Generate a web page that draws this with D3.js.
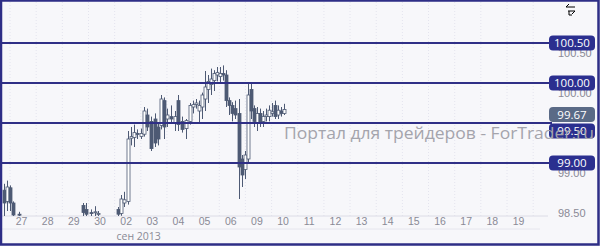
<!DOCTYPE html>
<html lang="ru">
<head>
<meta charset="utf-8">
<title>USDJPY</title>
<script src="https://d3js.org/d3.v7.min.js"></script>
<style>
  body { margin: 0; background: #fff; }
  svg { display: block; font-family: "Open Sans", "DejaVu Sans", sans-serif; }
</style>
</head>
<body>
<svg id="chart"></svg>
<script>
// day labels (index 0..19)
var dayLabels = ["27","28","29","30","02","03","04","05","06","09","10","11","12","13","14","15","16","17","18","19"];
var monthLabel = "сен 2013";

// candles: position in day units, open, high, low, close
var candleT = [-0.65,-0.54,-0.42,-0.31,-0.08, 2.37,2.48,2.68,2.83,2.94,
  3.71,3.82,3.94,4.09,4.20,4.32,4.43,4.59,4.70,4.82,4.97,5.12,5.24,5.35,5.47,5.58,5.73,5.89,
  6.00,6.15,6.31,6.46,6.57,6.69,6.80,6.92,7.03,7.15,7.26,7.38,7.49,7.61,7.72,7.84,7.95,
  8.07,8.18,8.33,8.45,8.56,8.68,8.79,8.91,9.02,9.14,9.25,9.37,9.48,9.59,9.71,9.82,9.94,10.05];
var open  = [98.66,98.52,98.69,98.50,98.36, 98.47,98.42,98.38,98.38,98.36,
  98.42,98.37,98.50,98.52,99.31,99.32,99.37,99.33,99.36,99.60,99.52,99.55,99.45,99.47,99.78,99.55,99.58,99.50,
  99.78,99.52,99.43,99.52,99.70,99.73,99.65,99.70,99.80,99.92,99.98,100.03,100.10,100.08,100.12,100.10,99.78,
  99.72,99.68,99.62,99.05,98.92,99.05,99.92,99.68,99.50,99.62,99.52,99.58,99.58,99.62,99.72,99.60,99.65,99.62];
var high  = [98.74,98.78,98.72,98.52,98.39, 98.50,98.50,98.42,98.46,98.40,
  98.45,98.60,98.64,99.40,99.45,99.48,99.42,99.43,99.70,99.68,99.58,99.62,99.50,99.85,99.82,99.68,99.72,99.65,
  99.85,99.58,99.55,99.75,99.78,99.80,99.78,99.88,100.15,100.10,100.18,100.16,100.20,100.20,100.22,100.16,99.82,
  99.76,99.78,99.80,99.10,99.15,100.00,100.00,99.72,99.70,99.68,99.65,99.68,99.72,99.75,99.78,99.72,99.70,99.74];
var low   = [98.30,98.40,98.40,98.30,98.30, 98.30,98.30,98.30,98.30,98.30,
  98.30,98.34,98.45,98.48,99.22,99.20,99.30,99.30,99.33,99.40,99.15,99.20,99.22,99.42,99.30,99.45,99.50,99.40,
  99.40,99.38,99.30,99.48,99.62,99.68,99.50,99.55,99.65,99.75,99.85,99.90,100.02,100.00,100.03,99.70,99.60,
  99.52,99.55,98.55,98.70,98.80,99.00,99.55,99.45,99.40,99.45,99.45,99.52,99.52,99.58,99.55,99.55,99.58,99.60];
var close = [98.50,98.70,98.50,98.35,98.35, 98.38,98.36,98.37,98.39,98.37,
  98.36,98.55,98.54,99.30,99.33,99.38,99.36,99.37,99.65,99.45,99.18,99.25,99.30,99.80,99.45,99.60,99.55,99.58,
  99.48,99.42,99.53,99.72,99.73,99.75,99.72,99.85,99.95,100.02,100.05,100.12,100.13,100.12,100.10,99.78,99.72,
  99.62,99.60,98.95,98.85,99.10,99.85,99.65,99.52,99.62,99.50,99.58,99.60,99.66,99.64,99.58,99.66,99.62,99.67];

// horizontal levels with labels, y-axis ticks, last price
var levels = [100.50, 100.00, 99.50, 99.00];
var yTicks = [98.50, 99.00, 99.50, 100.00, 100.50];
var lastPrice = 99.67;
var watermark = "Портал для трейдеров - ForTrader.ru";

var width = 600, height = 246;
var plot = {left: 2, right: 548, top: 2, bottom: 216};

var svg = d3.select("#chart").attr("width", width).attr("height", height);

var x = d3.scaleLinear().domain([0, 19]).range([21, 518]);
var y = d3.scaleLinear().domain([98.5, 100.5]).range([203, 43]);

svg.append("rect").attr("width", width).attr("height", height).attr("fill", "#f7f7fa");

svg.append("clipPath").attr("id", "plotClip")
  .append("rect")
  .attr("x", plot.left).attr("y", plot.top)
  .attr("width", plot.right - plot.left).attr("height", plot.bottom - plot.top);

// faint day grid
svg.append("g")
  .selectAll("line")
  .data(d3.range(-1, 21))
  .enter()
  .append("line")
  .attr("x1", d => x(d - 0.42)).attr("x2", d => x(d - 0.42))
  .attr("y1", plot.top).attr("y2", plot.bottom)
  .attr("stroke", "#e4e4ee").attr("stroke-dasharray", "1,2");

// axis separator
svg.append("line")
  .attr("x1", plot.left).attr("x2", plot.right)
  .attr("y1", plot.bottom).attr("y2", plot.bottom)
  .attr("stroke", "#dcdce6");
svg.append("line")
  .attr("x1", plot.left).attr("x2", 540)
  .attr("y1", 229).attr("y2", 229)
  .attr("stroke", "#e6e6ee");

// x axis
var xAxis = d3.axisBottom(x)
  .tickValues(d3.range(dayLabels.length))
  .tickFormat(i => dayLabels[i])
  .tickSize(0).tickPadding(0);
var gx = svg.append("g").attr("transform", "translate(0," + 218 + ")").call(xAxis);
gx.select(".domain").remove();
gx.selectAll("text").attr("fill", "#8a8a96").attr("font-size", 10.5).attr("dy", "0.71em");

svg.append("text")
  .attr("x", x(4.5)).attr("y", 240)
  .attr("text-anchor", "middle")
  .attr("fill", "#8a8a96").attr("font-size", 10.5)
  .text(monthLabel);

// y axis tick labels (under the level boxes)
var yAxis = d3.axisRight(y)
  .tickValues(yTicks)
  .tickFormat(d3.format(".2f"))
  .tickSize(0).tickPadding(0);
var gy = svg.append("g").attr("transform", "translate(558,10)").call(yAxis);
gy.select(".domain").remove();
gy.selectAll("text").attr("fill", "#8a8a96").attr("font-size", 11);

// candles
var candles = candleT.map((t, i) => ({t: t, o: open[i], h: high[i], l: low[i], c: close[i]}));
var cg = svg.append("g").attr("clip-path", "url(#plotClip)");
var candleColor = "#4e5a74";

cg.selectAll("line.wick")
  .data(candles)
  .enter()
  .append("line")
  .attr("class", "wick")
  .attr("x1", d => Math.round(x(d.t)) + 0.5).attr("x2", d => Math.round(x(d.t)) + 0.5)
  .attr("y1", d => y(d.h)).attr("y2", d => y(d.l))
  .attr("stroke", candleColor).attr("stroke-width", 1);

cg.selectAll("rect.body")
  .data(candles)
  .enter()
  .append("rect")
  .attr("class", "body")
  .attr("x", d => Math.round(x(d.t)) - 1)
  .attr("y", d => y(Math.max(d.o, d.c)))
  .attr("width", 3)
  .attr("height", d => Math.max(1, Math.abs(y(d.o) - y(d.c))))
  .attr("fill", d => d.c >= d.o ? "#ffffff" : candleColor)
  .attr("stroke", candleColor).attr("stroke-width", 0.8);

// horizontal levels
svg.append("g")
  .selectAll("line")
  .data(levels)
  .enter()
  .append("line")
  .attr("x1", 0).attr("x2", 552)
  .attr("y1", d => y(d)).attr("y2", d => y(d))
  .attr("stroke", "#2f2f86").attr("stroke-width", 2);

// price boxes
function priceBox(val, cy, fill) {
  var g = svg.append("g");
  g.append("rect")
    .attr("x", 549).attr("y", cy - 7.5)
    .attr("width", 46).attr("height", 15)
    .attr("rx", 4)
    .attr("fill", fill);
  g.append("text")
    .attr("x", 572).attr("y", cy)
    .attr("dy", "0.36em")
    .attr("text-anchor", "middle")
    .attr("fill", "#ffffff").attr("font-size", 11.5)
    .text(d3.format(".2f")(val));
}
priceBox(100.50, y(100.50), "#2b2f8f");
priceBox(100.00, y(100.00), "#2b2f8f");
priceBox(99.00, y(99.00), "#2b2f8f");
priceBox(lastPrice, y(lastPrice) + 5, "#5a6a86");
priceBox(99.50, y(99.50) + 8, "#2b2f8f");

// watermark, drawn over everything
svg.append("text")
  .attr("x", 284).attr("y", 139)
  .attr("fill", "#a4a4ac")
  .attr("font-size", 16)
  .attr("textLength", 310).attr("lengthAdjust", "spacingAndGlyphs")
  .text(watermark);

// small tool icon top right
var icon = svg.append("g").attr("transform", "translate(566,4)")
  .attr("fill", "none").attr("stroke", "#000").attr("stroke-width", 1);
icon.append("path").attr("d", "M0,3 L9,3 M0,3 L3,0 M9,7 L2,7 M9,7 L6,10 M3,7 L3,11 L6,11");

// outer frame
svg.append("rect")
  .attr("x", 1).attr("y", 0.5).attr("width", width - 2.5).attr("height", height - 2)
  .attr("fill", "none").attr("stroke", "#2e2e86").attr("stroke-width", 2.5);
</script>
</body>
</html>
